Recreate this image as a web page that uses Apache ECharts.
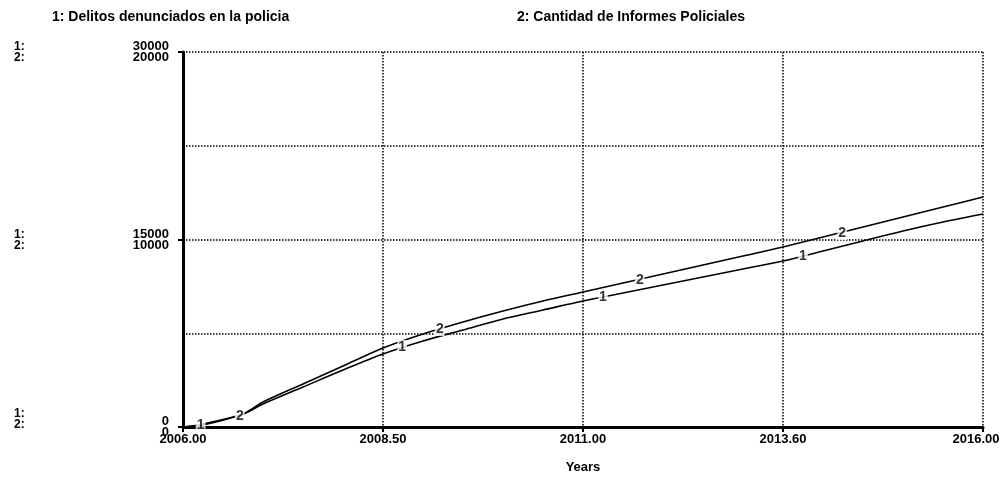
<!DOCTYPE html>
<html>
<head>
<meta charset="utf-8">
<title>Delitos vs Informes</title>
<script src="https://cdn.jsdelivr.net/npm/echarts@6/dist/echarts.min.js"></script>
<style>
  html, body { margin: 0; padding: 0; background: #fff; }
  #chart { width: 1002px; height: 479px; }
</style>
</head>
<body>
<div id="chart"></div>
<script>
// years (time axis)
const years = [2006.0, 2006.25, 2006.75, 2007.0, 2007.5, 2008.0, 2008.5, 2009.0, 2009.5, 2010.0,
  2010.5, 2011.0, 2011.5, 2012.0, 2012.5, 2013.0, 2013.5, 2014.0, 2014.5, 2015.0, 2015.5, 2016.0]
// 1: Delitos denunciados en la policia (scale 0-30000)
const delitos = [0, 160, 1040, 1840, 3200, 4560, 5840, 6880, 7760, 8640,
  9360, 10080, 10720, 11360, 12000, 12640, 13280, 14080, 14880, 15680, 16400, 17040]
// 2: Cantidad de Informes Policiales (scale 0-20000)
const informes = [0, 160, 693, 1333, 2293, 3253, 4213, 4960, 5600, 6187,
  6720, 7200, 7680, 8160, 8640, 9120, 9600, 10130, 10667, 11200, 11733, 12267]

// curve number markers
const labelYears1 = [2006.22, 2008.74, 2011.25, 2013.75]
const labelVals1 = [160, 6400, 10400, 13650]
const labelYears2 = [2006.71, 2009.21, 2011.71, 2014.24]
const labelVals2 = [600, 5227, 7850, 10350]

const xTickLabels = { 2006: '2006.00', 2008.5: '2008.50', 2011: '2011.00', 2013.5: '2013.60', 2016: '2016.00' }
const yTickLabels = { 0: '0\n0', 15000: '15000\n10000', 30000: '30000\n20000' }

const FONT = 'Liberation Sans'
const chart = echarts.init(document.getElementById('chart'))

function marker(txt) {
  return {
    show: true,
    position: 'inside',
    formatter: txt,
    color: '#000',
    fontFamily: FONT,
    fontSize: 14,
    fontWeight: 'bold',
    backgroundColor: '#fff',
    padding: [0, 1],
  }
}

const sideText = (x, y, t) => ({
  type: 'text', left: x, top: y,
  style: { text: t, font: 'bold 12px "Liberation Sans"', fill: '#000' },
})

const titleStyle = { fontSize: 14, fontWeight: 'bold', color: '#000', fontFamily: FONT }

chart.setOption({
  animation: false,
  backgroundColor: '#fff',
  textStyle: { fontFamily: FONT },
  title: [
    { text: '1: Delitos denunciados en la policia', left: 52, top: 10, padding: 0, textStyle: titleStyle },
    { text: '2: Cantidad de Informes Policiales', left: 517, top: 10, padding: 0, textStyle: titleStyle },
  ],
  graphic: [
    sideText(14, 41, '1:'), sideText(14, 52, '2:'),
    sideText(14, 229, '1:'), sideText(14, 240, '2:'),
    sideText(14, 408, '1:'), sideText(14, 419, '2:'),
  ],
  grid: { left: 183, right: 19, top: 52, bottom: 52, outerBoundsMode: 'none', containLabel: false },
  xAxis: {
    type: 'value',
    min: 2006,
    max: 2016,
    interval: 2.5,
    name: 'Years',
    nameLocation: 'middle',
    nameGap: 34,
    nameTextStyle: { fontSize: 13, fontWeight: 'bold', color: '#000', fontFamily: FONT },
    axisLine: { lineStyle: { color: '#000', width: 3 } },
    axisTick: { show: true, length: 5, lineStyle: { color: '#000', width: 2 } },
    axisLabel: {
      color: '#000', fontSize: 13, fontWeight: 'bold', margin: 6,
      formatter: (v) => (v === 2016 ? '{last|' + xTickLabels[v] + '}' : xTickLabels[v] || ''),
      rich: {
        last: { color: '#000', fontSize: 13, fontWeight: 'bold', fontFamily: FONT, padding: [0, 14, 0, 0] },
      },
    },
    splitLine: { show: true, lineStyle: { color: '#000', type: 'dotted', width: 1.5 } },
  },
  yAxis: [
    {
      type: 'value',
      min: 0,
      max: 30000,
      interval: 15000,
      axisLine: { show: true, lineStyle: { color: '#000', width: 3 } },
      axisTick: { show: true, length: 5, lineStyle: { color: '#000', width: 2 } },
      axisLabel: {
        color: '#000', fontSize: 13, fontWeight: 'bold', lineHeight: 11, margin: 14,
        formatter: (v) => yTickLabels[v] || '',
      },
      splitLine: { show: true, lineStyle: { color: '#000', type: 'dotted', width: 1.5 } },
      minorTick: { show: false, splitNumber: 2 },
      minorSplitLine: { show: true, lineStyle: { color: '#000', type: 'dotted', width: 1.5 } },
    },
    { type: 'value', min: 0, max: 20000, show: false, splitLine: { show: false } },
  ],
  series: [
    {
      name: 'Delitos denunciados en la policia',
      type: 'line',
      yAxisIndex: 0,
      symbol: 'none',
      smooth: 0.3,
      lineStyle: { color: '#000', width: 1.6 },
      data: years.map((y, i) => [y, delitos[i]]),
    },
    {
      name: 'Cantidad de Informes Policiales',
      type: 'line',
      yAxisIndex: 1,
      symbol: 'none',
      smooth: 0.3,
      lineStyle: { color: '#000', width: 1.6 },
      data: years.map((y, i) => [y, informes[i]]),
    },
    {
      type: 'scatter', yAxisIndex: 0, symbolSize: 1,
      itemStyle: { color: 'transparent' },
      label: marker('1'),
      data: labelYears1.map((y, i) => [y, labelVals1[i]]),
      z: 5,
    },
    {
      type: 'scatter', yAxisIndex: 1, symbolSize: 1,
      itemStyle: { color: 'transparent' },
      label: marker('2'),
      data: labelYears2.map((y, i) => [y, labelVals2[i]]),
      z: 5,
    },
  ],
})
</script>
</body>
</html>
